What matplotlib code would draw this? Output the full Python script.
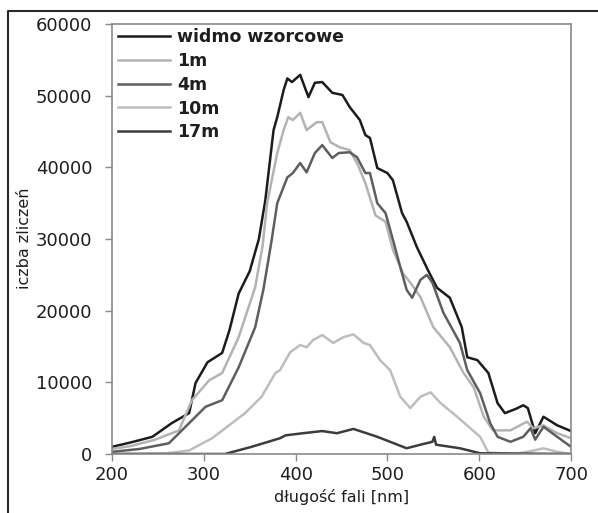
import matplotlib
matplotlib.use('Agg')
import matplotlib.pyplot as plt
from matplotlib.lines import Line2D

# ===== DATA =====
wl_ref = [200, 220, 244, 265, 284, 291, 304, 320, 328, 338, 350, 360, 367, 376, 380, 387, 391, 396,
          405, 414, 421, 429, 440, 451, 459, 470, 476, 481, 489, 500, 506, 516, 521, 532, 544, 554,
          568, 581, 587, 598, 610, 620, 628, 640, 648, 653, 661, 670, 685, 700]
cnt_ref = [1000, 1600, 2400, 4300, 5700, 9900, 12800, 14100, 17300, 22400, 25500, 30000, 35400, 45200,
           47000, 50800, 52400, 51900, 52900, 49800, 51800, 51900, 50400, 50100, 48400, 46600, 44500,
           44100, 39900, 39200, 38200, 33600, 32400, 28900, 25700, 23200, 21800, 17700, 13500, 13100,
           11300, 7100, 5700, 6300, 6800, 6400, 2900, 5200, 4000, 3200]

wl_1m = [200, 220, 247, 273, 287, 306, 320, 338, 356, 364, 369, 380, 387, 392, 397, 405, 412, 423,
         429, 438, 448, 459, 468, 476, 487, 498, 506, 517, 525, 536, 550, 568, 583, 594, 605, 615,
         634, 652, 659, 670, 685, 700]
cnt_1m = [700, 1100, 2000, 3300, 7500, 10300, 11300, 16300, 23300, 29000, 35000, 42000, 45200, 47000,
          46600, 47600, 45200, 46300, 46300, 43500, 42800, 42400, 40300, 37800, 33300, 32400, 28500,
          25200, 23900, 21900, 17700, 14900, 11300, 9300, 5200, 3300, 3300, 4500, 3600, 4000, 2900, 2200]

wl_4m = [200, 230, 262, 284, 302, 320, 338, 356, 365, 374, 380, 391, 397, 405, 412, 421, 429, 440,
         447, 459, 467, 476, 481, 489, 498, 506, 514, 521, 527, 536, 543, 549, 561, 579, 587, 601,
         612, 620, 634, 648, 656, 661, 670, 685, 700]
cnt_4m = [300, 700, 1500, 4300, 6600, 7500, 12100, 17700, 23000, 29900, 35000, 38600, 39200, 40600,
          39300, 42000, 43100, 41300, 42000, 42100, 41400, 39200, 39200, 35000, 33600, 29900, 26100,
          22900, 21800, 24300, 25000, 23900, 19700, 15500, 11700, 8500, 4300, 2400, 1700, 2400, 3600,
          2000, 3800, 2400, 1000]

wl_10m = [200, 260, 284, 309, 345, 363, 378, 383, 394, 405, 412, 419, 429, 441, 452, 463, 474, 481,
          492, 503, 514, 525, 536, 547, 558, 576, 601, 610, 640, 660, 670, 685, 700]
cnt_10m = [0, 100, 500, 2200, 5700, 8000, 11300, 11700, 14200, 15200, 14900, 15900, 16600, 15500,
           16300, 16700, 15500, 15200, 13100, 11700, 8000, 6400, 8000, 8600, 7100, 5200, 2400, 200,
           0, 500, 800, 300, 0]

wl_17m = [200, 323, 352, 383, 389, 408, 429, 445, 463, 489, 503, 521, 536, 549, 551, 553, 579, 601, 700]
cnt_17m = [0, 0, 1000, 2200, 2600, 2900, 3200, 2900, 3500, 2400, 1700, 800, 1300, 1700, 2400, 1300,
           800, 100, 0]

labels = ['widmo wzorcowe', '1m', '4m', '10m', '17m']
x_ticks = [200, 300, 400, 500, 600, 700]
y_ticks = [0, 10000, 20000, 30000, 40000, 50000, 60000]

# ===== STYLE =====
COLORS = ['#1c1c1c', '#b3b3b3', '#5e5e5e', '#bdbdbd', '#3c3c3c']
TEXT_COLOR = '#1e1e1e'
SPINE_COLOR = '#8a8a8a'
FONT = 'DejaVu Sans'

fig = plt.figure(figsize=(5.98, 5.13), dpi=100, facecolor='white')
ax = fig.add_axes([112 / 598, 1 - 454 / 513, 459 / 598, 430 / 513])

series = [(wl_ref, cnt_ref), (wl_1m, cnt_1m), (wl_4m, cnt_4m), (wl_10m, cnt_10m), (wl_17m, cnt_17m)]
for (wl, cnt), lab, col in zip(series, labels, COLORS):
    ax.plot(wl, cnt, color=col, linewidth=1.8, label=lab, solid_joinstyle='round')

ax.set_xlim(200, 700)
ax.set_ylim(0, 60000)
ax.set_xticks(x_ticks)
ax.set_yticks(y_ticks)
ax.tick_params(direction='out', length=5, width=1, color=SPINE_COLOR,
               labelsize=13, labelcolor=TEXT_COLOR)
ax.tick_params(axis='y', pad=9)
ax.tick_params(axis='x', pad=4)
for lbl in ax.get_xticklabels() + ax.get_yticklabels():
    lbl.set_family(FONT)
for sp in ax.spines.values():
    sp.set_color(SPINE_COLOR)
    sp.set_linewidth(1.2)

ax.set_xlabel('długość fali [nm]', fontsize=11.5, color=TEXT_COLOR, family=FONT, labelpad=3)
fig.text(25 / 598, 1 - 238 / 513, 'iczba zliczeń', rotation=90, ha='center', va='center',
         fontsize=11.5, color=TEXT_COLOR, family=FONT)

leg = ax.legend(loc='upper left', bbox_to_anchor=(0.004, 1.0), frameon=False,
                prop={'family': FONT, 'size': 12.5, 'weight': 'bold'},
                handlelength=3.0, handletextpad=0.4, labelspacing=0.33,
                borderpad=0.25, borderaxespad=0)
for t in leg.get_texts():
    t.set_color(TEXT_COLOR)

# outer frame (only left and top edges visible in the reference)
fig.add_artist(Line2D([8 / 598, 8 / 598, 1.0], [0.0, 1 - 11 / 513, 1 - 11 / 513],
                      transform=fig.transFigure, color='#2a2a2a', linewidth=1.5))

fig.savefig('out.png', dpi=100, facecolor='white')
